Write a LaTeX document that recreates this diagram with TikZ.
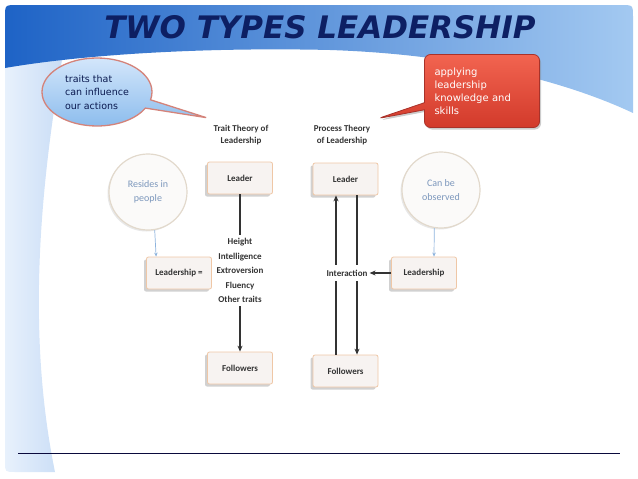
\documentclass[tikz,border=0pt]{standalone}
\usepackage{fontspec}
\setmainfont{Carlito}
\newfontfamily\calloutfont{DejaVu Sans}
\newfontfamily\titlefont{DejaVu Sans}
\usepackage{xcolor}
\usepackage{tikz}
\usetikzlibrary{shapes.geometric, shapes.callouts, arrows.meta, positioning, shadows, calc}

\definecolor{navy}{HTML}{0D1F63}
\definecolor{rulenavy}{HTML}{0A0A3C}
\definecolor{bannerdark}{HTML}{1E63C6}
\definecolor{bannermid}{HTML}{4A8ADB}
\definecolor{bannerlight}{HTML}{A3C9F1}
\definecolor{stripleft}{HTML}{E8F1FC}
\definecolor{stripright}{HTML}{C9DDF6}
\definecolor{boxfill}{HTML}{F7F3F1}
\definecolor{boxedge}{HTML}{EFC7A6}
\definecolor{darktext}{HTML}{333333}
\definecolor{bubblefill}{HTML}{FBFAF9}
\definecolor{bubbleedge}{HTML}{E2D9CC}
\definecolor{bubbletext}{HTML}{7C97BC}
\definecolor{thinblue}{HTML}{8DB3DD}
\definecolor{noteblue}{HTML}{D3E6FB}
\definecolor{noteblue2}{HTML}{8DBDED}
\definecolor{noteedge}{HTML}{D4837A}
\definecolor{notered}{HTML}{F26450}
\definecolor{notered2}{HTML}{D23A2B}
\definecolor{rededge}{HTML}{A8322A}

\begin{document}
\begin{tikzpicture}[
    x=1pt, y=-1pt,
    boxnode/.style={rectangle, rounded corners=2pt, draw=boxedge, fill=boxfill,
                    line width=0.8pt, minimum width=65pt, minimum height=32pt,
                    font=\fontsize{9}{10}\selectfont\bfseries, text=darktext,
                    drop shadow={shadow xshift=-2.5pt, shadow yshift=-2.5pt,
                                 fill=black!40, opacity=0.45}},
    bubble/.style={ellipse, draw=bubbleedge, line width=1.2pt, fill=bubblefill,
                   minimum width=78pt, minimum height=76pt, align=center,
                   font=\fontsize{10}{14}\selectfont, text=bubbletext,
                   drop shadow={shadow xshift=-1.5pt, shadow yshift=-1.5pt,
                                fill=black!30, opacity=0.3}},
    theory/.style={font=\fontsize{9}{12}\selectfont\bfseries, text=darktext, align=center},
    traitlist/.style={font=\fontsize{9}{14.6}\selectfont\bfseries, text=darktext,
                      align=center, inner sep=3pt},
    arrow/.style={-{Stealth[length=6pt, width=5pt]}, line width=1.4pt, draw=darktext},
    thinarrow/.style={-{Stealth[length=4pt, width=3.5pt]}, line width=0.7pt, draw=thinblue}
]
\useasboundingbox (0,0) rectangle (638,479);

% Slide background
\shade[left color=stripleft, right color=stripright]
    (5,60) -- (62,60) .. controls (38,200) and (28,340) .. (55,472)
    -- (15,472) .. controls (5,472) .. (5,462) -- cycle;
\shade[left color=bannerdark, middle color=bannermid, right color=bannerlight]
    (5,68) -- (5,17) .. controls (5,5) .. (17,5) -- (621,5) .. controls (633,5) .. (633,17)
    -- (633,113) .. controls (580,88) and (480,55) .. (330,50)
    .. controls (200,47) and (80,55) .. (5,68) -- cycle;
\draw[rulenavy, line width=0.9pt] (18,453) -- (620,453);

% Title
\node[font=\fontsize{31}{31}\titlefont\bfseries\itshape\selectfont, text=navy] (title) at (320,27)
    {TWO TYPES LEADERSHIP};

% Theory labels
\node[theory] (trait) at (241,135) {Trait Theory of\\Leadership};
\node[theory] (proc)  at (342,135) {Process Theory\\of Leadership};

% Callouts
\node[ellipse callout, callout absolute pointer={($(trait.north west)+(-4,-4)$)},
      top color=noteblue, bottom color=noteblue2, draw=noteedge, line width=1.3pt,
      minimum width=110pt, minimum height=68pt, align=left,
      font=\fontsize{9.5}{13.5}\calloutfont\selectfont, text=navy!80!black]
      (traitnote) at (97,92) {traits that\\can influence\\our actions};
\node[rectangle callout, callout absolute pointer={($(proc.north east)+(4,-3)$)}, rounded corners=6pt,
      top color=notered, bottom color=notered2, draw=rededge, line width=0.8pt,
      minimum width=115pt, minimum height=73pt, text width=95pt, align=left,
      font=\fontsize{10}{13}\calloutfont\selectfont, text=white,
      drop shadow={shadow xshift=1.5pt, shadow yshift=-2pt, fill=black!50, opacity=0.4}]
      (procnote) at (482,91) {applying\\leadership\\knowledge and\\skills};

% Trait theory
\node[boxnode] (lleader) at (240,178) {Leader};
\node[traitlist] (traits) at (240,270.5) {Height\\Intelligence\\Extroversion\\Fluency\\Other traits};
\node[boxnode] (lfol) at (240,368) {Followers};
\node[bubble] (resides) at (148,192) {Resides in\\people};
\node[boxnode] (lship) at (179,273) {Leadership =};

\draw[line width=1.4pt, darktext] (lleader) -- (traits);
\draw[arrow] (traits) -- (lfol);
\draw[thinarrow] (resides.-80) -- ([xshift=10pt]lship.north west);

% Process theory
\node[boxnode] (rleader) at (345.5,179) {Leader};
\node[boxnode] (rfol) at (345.5,371) {Followers};
\node[bubble] (observed) at (441,190) {Can be\\observed};
\node[boxnode] (rship) at (424,273) {Leadership};

\draw[arrow] ([xshift=-9.5pt]rfol.north) -- ([xshift=-9.5pt]rleader.south);
\draw[arrow] ([xshift=11.5pt]rleader.south) -- ([xshift=11.5pt]rfol.north);
\node[theory, fill=white, inner xsep=2pt, inner ysep=5pt] (inter) at (347,273) {Interaction};
\draw[arrow] (rship) -- (inter);
\draw[thinarrow] (observed.-100) -- ([xshift=10pt]rship.north);

\end{tikzpicture}
\end{document}
